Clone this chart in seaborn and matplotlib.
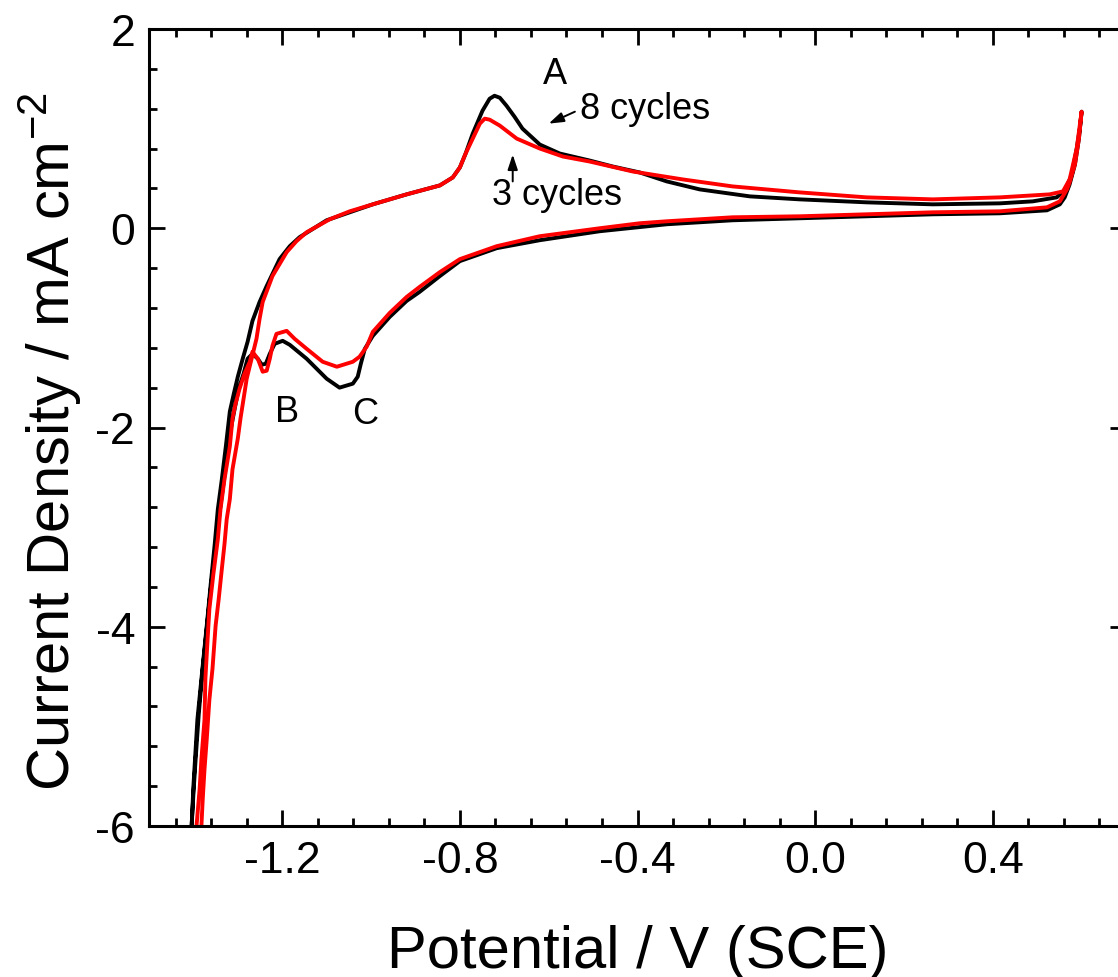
import numpy as np
import pandas as pd
import matplotlib
matplotlib.use("Agg")
import matplotlib.pyplot as plt
from matplotlib.ticker import MultipleLocator, FormatStrFormatter
import seaborn as sns

# ---- cyclic voltammograms: potential (V vs SCE) and current density (mA cm^-2)
# 8 cycles, positive-going (anodic) scan
e8_fwd = [-1.404, -1.400, -1.391, -1.379, -1.370, -1.361, -1.352, -1.345, -1.336, -1.327,
          -1.318, -1.309, -1.300, -1.289, -1.278, -1.267, -1.251, -1.235, -1.206, -1.183,
          -1.161, -1.100, -1.048, -0.996, -0.920, -0.845, -0.816, -0.800, -0.787, -0.771,
          -0.749, -0.733, -0.722, -0.710, -0.695, -0.677, -0.659, -0.620, -0.575, -0.508,
          -0.456, -0.395, -0.334, -0.260, -0.147, -0.035, 0.116, 0.265, 0.416, 0.490,
          0.544, 0.564, 0.578, 0.589, 0.596, 0.600]
j8_fwd = [-6.00, -5.60, -4.93, -4.39, -3.99, -3.57, -3.17, -2.82, -2.52, -2.19,
          -1.84, -1.66, -1.49, -1.31, -1.14, -0.93, -0.74, -0.58, -0.31, -0.18,
          -0.09, 0.08, 0.16, 0.24, 0.34, 0.43, 0.51, 0.61, 0.75, 0.95,
          1.18, 1.30, 1.33, 1.31, 1.23, 1.12, 1.00, 0.84, 0.75, 0.68,
          0.62, 0.56, 0.47, 0.39, 0.32, 0.29, 0.26, 0.24, 0.25, 0.27,
          0.31, 0.39, 0.54, 0.80, 1.00, 1.17]
# 8 cycles, negative-going (cathodic) scan
e8_rev = [0.600, 0.594, 0.585, 0.573, 0.562, 0.551, 0.522, 0.416, 0.265, 0.116,
          -0.035, -0.186, -0.334, -0.485, -0.575, -0.620, -0.717, -0.800, -0.845, -0.891,
          -0.920, -0.958, -0.996, -1.014, -1.023, -1.030, -1.041, -1.071, -1.100, -1.145,
          -1.183, -1.199, -1.217, -1.228, -1.237, -1.246, -1.255, -1.267, -1.278, -1.287,
          -1.298, -1.307, -1.316, -1.325, -1.334, -1.343, -1.352, -1.361, -1.370, -1.379,
          -1.388, -1.395, -1.400, -1.404]
j8_rev = [1.17, 0.90, 0.64, 0.44, 0.31, 0.24, 0.18, 0.15, 0.14, 0.12,
          0.10, 0.08, 0.04, -0.03, -0.09, -0.12, -0.20, -0.33, -0.48, -0.64,
          -0.73, -0.89, -1.08, -1.21, -1.36, -1.49, -1.56, -1.60, -1.51, -1.31,
          -1.17, -1.13, -1.16, -1.26, -1.36, -1.37, -1.31, -1.26, -1.31, -1.46,
          -1.61, -1.81, -2.02, -2.32, -2.62, -2.92, -3.27, -3.62, -4.02, -4.42,
          -4.88, -5.33, -5.68, -6.00]

# 3 cycles, positive-going (anodic) scan
e3_fwd = [-1.382, -1.379, -1.375, -1.370, -1.364, -1.357, -1.350, -1.343, -1.336, -1.330,
          -1.325, -1.318, -1.312, -1.300, -1.294, -1.287, -1.280, -1.269, -1.258, -1.251,
          -1.244, -1.233, -1.222, -1.206, -1.190, -1.168, -1.145, -1.093, -1.048, -0.996,
          -0.920, -0.845, -0.816, -0.800, -0.787, -0.771, -0.755, -0.744, -0.733, -0.710,
          -0.672, -0.620, -0.568, -0.508, -0.411, -0.298, -0.186, -0.035, 0.116, 0.265,
          0.416, 0.528, 0.558, 0.573, 0.589, 0.600]
j3_fwd = [-6.00, -5.73, -5.43, -5.13, -4.73, -4.42, -3.99, -3.72, -3.42, -3.17,
          -2.92, -2.72, -2.42, -2.11, -1.91, -1.71, -1.51, -1.31, -1.11, -0.91,
          -0.74, -0.61, -0.48, -0.36, -0.24, -0.13, -0.04, 0.09, 0.17, 0.24,
          0.34, 0.43, 0.51, 0.61, 0.75, 0.90, 1.05, 1.10, 1.09, 1.03,
          0.90, 0.80, 0.72, 0.67, 0.57, 0.49, 0.42, 0.36, 0.31, 0.29,
          0.31, 0.34, 0.37, 0.49, 0.80, 1.17]
# 3 cycles, negative-going (cathodic) scan
e3_rev = [0.600, 0.594, 0.585, 0.573, 0.567, 0.551, 0.522, 0.416, 0.265, 0.116,
          -0.035, -0.186, -0.334, -0.395, -0.485, -0.620, -0.717, -0.800, -0.845, -0.891,
          -0.920, -0.958, -0.996, -1.010, -1.026, -1.041, -1.077, -1.109, -1.145, -1.172,
          -1.190, -1.213, -1.222, -1.228, -1.235, -1.244, -1.255, -1.267, -1.273, -1.285,
          -1.296, -1.305, -1.312, -1.318, -1.330, -1.339, -1.345, -1.355, -1.364, -1.368,
          -1.373, -1.375, -1.382, -1.386, -1.393]
j3_rev = [1.17, 0.90, 0.64, 0.46, 0.39, 0.27, 0.21, 0.17, 0.16, 0.14,
          0.12, 0.11, 0.07, 0.05, 0.00, -0.08, -0.18, -0.31, -0.44, -0.59,
          -0.69, -0.85, -1.04, -1.19, -1.29, -1.34, -1.39, -1.34, -1.21, -1.11,
          -1.03, -1.06, -1.18, -1.31, -1.43, -1.44, -1.31, -1.24, -1.34, -1.46,
          -1.61, -1.76, -1.91, -2.19, -2.52, -2.82, -3.12, -3.47, -3.82, -4.12,
          -4.52, -4.93, -5.33, -5.63, -6.00]

curves = [
    ("8 cycles", e8_fwd + e8_rev, j8_fwd + j8_rev, "#000000"),
    ("3 cycles", e3_fwd + e3_rev, j3_fwd + j3_rev, "#ff0000"),
]

sns.set_theme(style="ticks")
plt.rcParams["font.family"] = ["Liberation Sans", "DejaVu Sans"]
plt.rcParams["mathtext.fontset"] = "custom"
plt.rcParams["mathtext.rm"] = "Liberation Sans"
plt.rcParams["mathtext.it"] = "Liberation Sans:italic"
plt.rcParams["axes.unicode_minus"] = False

fig = plt.figure(figsize=(11.18, 9.78), dpi=100)
ax = fig.add_axes([149 / 1118, 1 - 827 / 978, 977 / 1118, 797 / 978])

for name, e, j, col in curves:
    df = pd.DataFrame({"Potential": e, "Current": j})
    sns.lineplot(data=df, x="Potential", y="Current", sort=False, estimator=None,
                 color=col, linewidth=2.8, ax=ax, legend=False)

ax.set_xlim(-1.5, 0.7)
ax.set_ylim(-6, 2)

ax.xaxis.set_major_locator(MultipleLocator(0.4))
ax.xaxis.set_minor_locator(MultipleLocator(0.08))
ax.xaxis.set_major_formatter(FormatStrFormatter("%.1f"))
ax.yaxis.set_major_locator(MultipleLocator(2))
ax.yaxis.set_minor_locator(MultipleLocator(0.4))
ax.yaxis.set_major_formatter(FormatStrFormatter("%d"))

ax.tick_params(which="both", direction="in", top=True, right=True, width=2.0, color="black")
ax.tick_params(which="major", length=11.5, labelsize=32, pad=10, labelcolor="black")
ax.tick_params(which="minor", length=6)
for s in ax.spines.values():
    s.set_linewidth(2.2)
    s.set_color("black")
    s.set_visible(True)

ax.set_xlabel("Potential / V (SCE)", fontsize=43, labelpad=31, color="black")
ax.set_ylabel(r"Current Density / mA cm$^{\mathregular{-2}}$", fontsize=43, color="black")
ax.yaxis.set_label_coords(-0.067, 0.483)

# peak labels
txt = dict(fontsize=26, color="black", ha="center", va="center")
ax.text(-0.586, 1.55, "A", **txt)
ax.text(-1.188, -1.84, "B", **txt)
ax.text(-1.014, -1.86, "C", **txt)
ax.text(-0.530, 1.20, "8 cycles", fontsize=26, color="black", ha="left", va="center")
ax.text(-0.582, 0.34, "3 cycles", **txt)

arrow = dict(arrowstyle="-|>,head_length=0.75,head_width=0.25", color="black", lw=1.4,
             shrinkA=0, shrinkB=0)
ax.annotate("", xy=(-0.600, 1.05), xytext=(-0.541, 1.17), arrowprops=arrow)
ax.annotate("", xy=(-0.681, 0.74), xytext=(-0.681, 0.47), arrowprops=arrow)

fig.savefig("out.png", dpi=100, facecolor="white")
